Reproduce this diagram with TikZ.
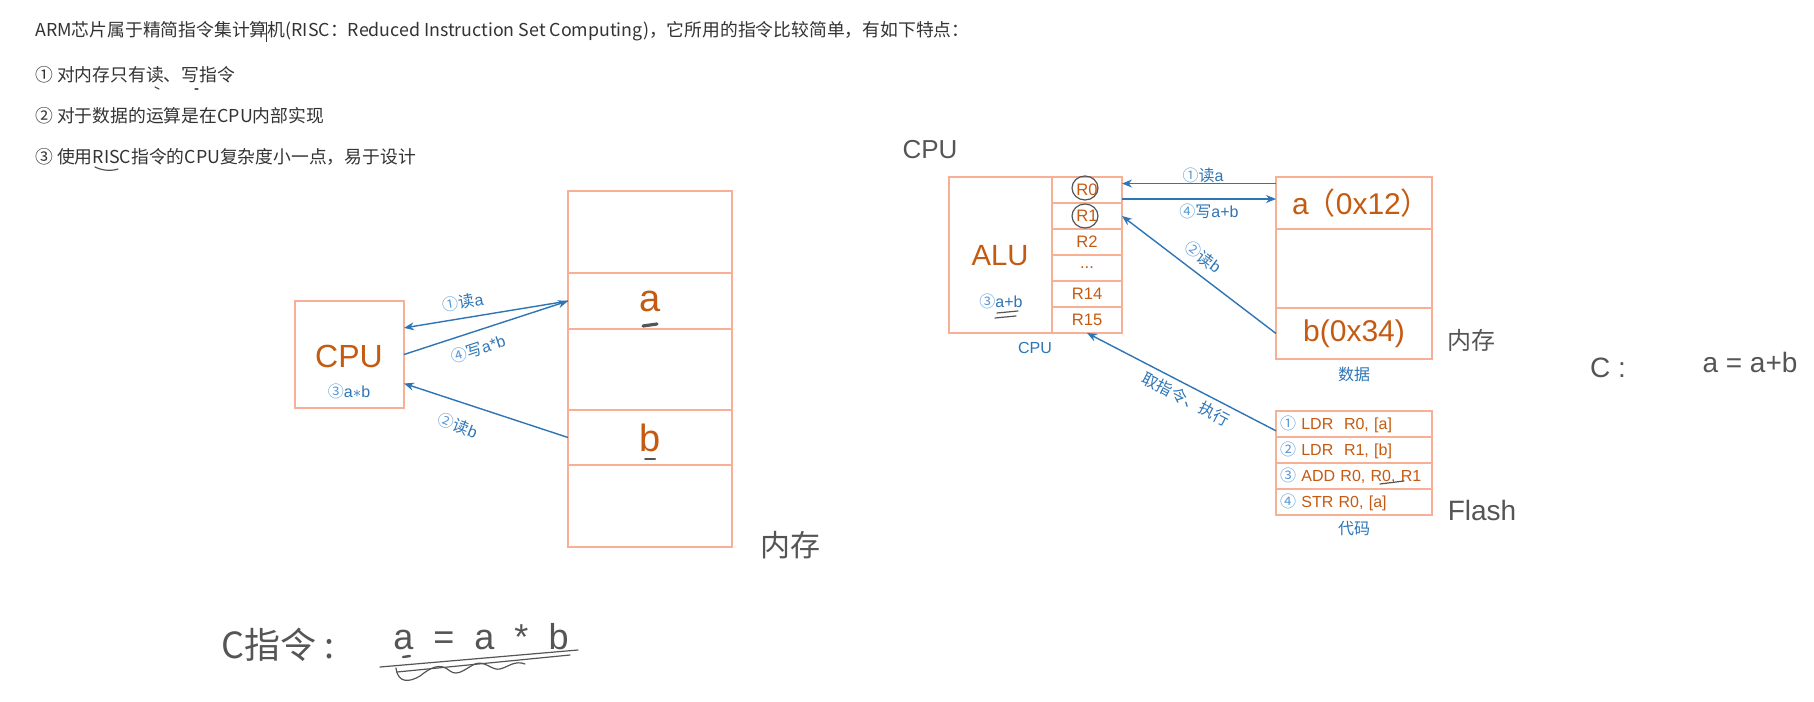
\documentclass[tikz,border=0pt]{standalone}
\usepackage{fontspec}
\setmainfont{Liberation Sans}
\newfontfamily\cjkfont{Noto Sans CJK SC}
\usepackage{xcolor}
\definecolor{boxline}{RGB}{247,176,150}
\definecolor{txtorange}{RGB}{197,90,17}
\definecolor{arrblue}{RGB}{46,117,182}
\definecolor{circblue}{RGB}{91,155,213}
\definecolor{handgray}{RGB}{85,85,85}
\definecolor{notegray}{RGB}{51,51,51}
\usetikzlibrary{arrows.meta,positioning,calc}
\newcommand{\circnum}[1]{{\color{circblue}\cjkfont #1}}
\tikzset{
  memcell/.style={rectangle, draw=boxline, line width=0.7pt, inner sep=0pt, outer sep=0pt,
                  minimum width=82pt, text=txtorange, font=\fontsize{19}{20}\selectfont},
  cpubox/.style={rectangle, draw=boxline, line width=0.7pt, inner sep=0pt, outer sep=0pt},
  regcell/.style={rectangle, draw=boxline, line width=0.7pt, inner sep=0pt, outer sep=0pt,
                  minimum width=35pt, minimum height=13pt, text=txtorange,
                  font=\fontsize{8.3}{9}\selectfont},
  datacell/.style={rectangle, draw=boxline, line width=0.7pt, inner sep=0pt, outer sep=0pt,
                   minimum width=78pt, text=txtorange, font=\fontsize{15}{16}\selectfont},
  codecell/.style={rectangle, draw=boxline, line width=0.7pt, outer sep=0pt,
                   text width=74pt, inner xsep=2pt, inner ysep=0pt, minimum height=13pt,
                   align=left, text=txtorange, font=\fontsize{8}{9}\selectfont},
  arr/.style={draw=arrblue, line width=0.7pt, -{Stealth[length=5pt,width=4pt]}},
  lbl/.style={text=arrblue, font=\fontsize{8}{9}\selectfont, inner sep=1pt},
  hand/.style={draw=handgray, line width=0.6pt, line cap=round},
  handtxt/.style={text=handgray, inner sep=0pt},
  note/.style={anchor=west, text=notegray, inner sep=0pt,
               font=\cjkfont\fontsize{8.9}{10}\selectfont},
}
\begin{document}
\begin{tikzpicture}[x=0.5pt,y=-0.5pt]
  \fill[white] (0,0) rectangle (1814,701);
  \useasboundingbox (0,0) rectangle (1814,701);

  % Notes at the top
  \node[note] (line1) at (35,31) {ARM芯片属于精简指令集计算机(RISC：Reduced Instruction Set Computing)，它所用的指令比较简单，有如下特点：};
  \node[note] (line2) at (35,75) {① 对内存只有读、写指令};
  \node[note] (line3) at (35,116) {② 对于数据的运算是在CPU内部实现};
  \node[note] (line4) at (35,157) {③ 使用RISC指令的CPU复杂度小一点，易于设计};
  \draw[notegray, line width=0.5pt] (266,22) -- (266,42);
  \draw[hand] (155,87) -- (159,89);
  \draw[hand] (195,89) -- (198,89);
  \draw[hand] (95,167) .. controls (103,171) and (112,171) .. (118,169);

  % Left: CPU and memory
  \node[cpubox, minimum width=54.5pt, minimum height=53.5pt] (cpuL) at (349.5,354.5) {};
  \node[text=txtorange, font=\fontsize{16}{17}\selectfont] (cpuLname) at (349,356) {CPU};
  \node[lbl] (cpuLop) at (349,391) {\circnum{③}a$*$b};

  \node[memcell, minimum height=41pt, anchor=north] (m1) at (650,191) {};
  \node[memcell, minimum height=28pt, below=0pt of m1] (m2) {a};
  \node[memcell, minimum height=40.5pt, below=0pt of m2] (m3) {};
  \node[memcell, minimum height=27.5pt, below=0pt of m3] (m4) {b};
  \node[memcell, minimum height=41pt, below=0pt of m4] (m5) {};
  \draw[hand, line width=1.6pt] (643,326) -- (657,324);
  \draw[hand, line width=1pt] (645,459) -- (655,459);

  \draw[arr] (m2.west) -- (cpuL.26);
  \draw[arr] (cpuL.east) -- (m2.west);
  \draw[arr] (m4.west) -- (cpuL.-28);
  \node[lbl, rotate=9] (lblLa) at (463,302) {\circnum{①}{\cjkfont 读}a};
  \node[lbl, rotate=18] (lblLw) at (478,349) {\circnum{④}{\cjkfont 写}a*b};
  \node[lbl, rotate=-22] (lblLb) at (458,426) {\circnum{②}{\cjkfont 读}b};

  \node[handtxt, font=\cjkfont\fontsize{15}{16}\selectfont] (memL) at (790,545) {内存};
  \node[handtxt, font=\cjkfont\fontsize{18}{19}\selectfont] (cInstr) at (278,645) {C指令 :};
  \node[handtxt, font=\fontsize{18}{19}\selectfont] (cMul) at (481,637) {a\ \ =\ \ a\ \ *\ \ b};
  \draw[hand] (380,667) -- (578,650);
  \draw[hand] (397,672) -- (570,655);
  \draw[hand, line width=1.2pt] (403,657) -- (410,656);
  \draw[hand] (396,668) .. controls (398,684) and (410,682) .. (420,676)
    .. controls (430,668) and (440,662) .. (450,671)
    .. controls (458,677) and (466,668) .. (475,664)
    .. controls (485,660) and (492,671) .. (500,669)
    .. controls (508,667) and (515,660) .. (525,664);

  % Right: CPU with registers
  \node[handtxt, font=\fontsize{13}{14}\selectfont] (cpuHand) at (930,150) {CPU};
  \node[cpubox, minimum width=86.5pt, minimum height=78pt] (cpuR) at (1035.5,255) {};
  \node[regcell, anchor=north east] (r0) at (cpuR.north east) {R0};
  \node[regcell, below=0pt of r0] (r1) {R1};
  \node[regcell, below=0pt of r1] (r2) {R2};
  \node[regcell, below=0pt of r2] (rdots) {...};
  \node[regcell, below=0pt of rdots] (r14) {R14};
  \node[regcell, below=0pt of r14] (r15) {R15};
  \node[text=txtorange, font=\fontsize{14.6}{15}\selectfont] (alu) at (1000,256) {ALU};
  \node[lbl] (aluop) at (1001,301) {\circnum{③}a+b};
  \node[lbl] (cpuRname) at (1035,348) {CPU};
  \draw[hand] (1085,188) ellipse [x radius=6.5pt, y radius=6pt];
  \draw[hand] (1085,216) ellipse [x radius=6.5pt, y radius=6pt];
  \draw[hand] (997,313) -- (1018,311);
  \draw[hand] (995,318) -- (1016,316);

  % Right: data and code
  \node[datacell, minimum height=26pt, anchor=north] (d1) at (1354,177)
    {a\kern-0.1em{\cjkfont （}0x12{\cjkfont ）}\kern-0.5em};
  \node[datacell, minimum height=39.5pt, below=0pt of d1] (d2) {};
  \node[datacell, minimum height=25.5pt, below=0pt of d2] (d3) {b(0x34)};
  \node[lbl] (dataname) at (1354,374) {\cjkfont 数据};

  \node[codecell, anchor=north] (c1) at (1354,411) {\circnum{①}\ LDR\ \ R0, [a]};
  \node[codecell, below=0pt of c1] (c2) {\circnum{②}\ LDR\ \ R1, [b]};
  \node[codecell, below=0pt of c2] (c3) {\circnum{③}\ ADD R0, R0, R1};
  \node[codecell, below=0pt of c3] (c4) {\circnum{④}\ STR R0, [a]};
  \node[lbl] (codename) at (1354,529) {\cjkfont 代码};
  \draw[hand] (1380,484) -- (1404,481);

  \draw[arr] (d1.166) -- (d1.166 -| r0.east);
  \coordinate (wstart) at ([yshift=-4.5pt]r0.east);
  \draw[arr] (wstart) -- (wstart -| d1.west);
  \draw[arr] (d3.west) -- (r1.east);
  \draw[arr] (c1.185) -- (r15.south);
  \node[lbl] (lblRa) at (1203,175) {\circnum{①}{\cjkfont 读}a};
  \node[lbl] (lblRw) at (1209,211) {\circnum{④}{\cjkfont 写}a+b};
  \node[lbl, rotate=-37] (lblRb) at (1203,257) {\circnum{②}{\cjkfont 读}b};
  \node[lbl, rotate=-27.5] (lblRf) at (1186,399) {\cjkfont 取指令、执行};

  \node[handtxt, font=\cjkfont\fontsize{12}{13}\selectfont] (memR) at (1471,340) {内存};
  \node[handtxt, font=\fontsize{14}{15}\selectfont] (flash) at (1482,510) {Flash};
  \node[handtxt, font=\fontsize{14}{15}\selectfont] (cNote) at (1608,368) {C :};
  \node[handtxt, font=\fontsize{14}{15}\selectfont] (cExpr) at (1750,362) {a = a+b};
\end{tikzpicture}
\end{document}
